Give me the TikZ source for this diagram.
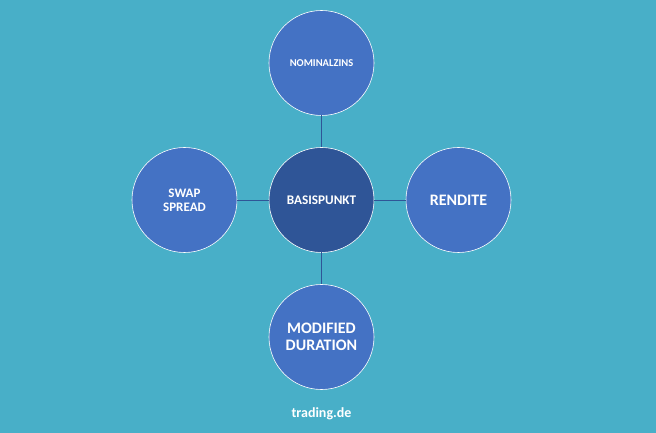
\documentclass[tikz,border=0pt]{standalone}
\usepackage{fontspec}
\setmainfont{Carlito}
\usepackage{tikz}
\usetikzlibrary{positioning}

\definecolor{bgteal}{HTML}{48AFC8}
\definecolor{circblue}{HTML}{4472C4}
\definecolor{coreblue}{HTML}{2F5597}

\begin{document}
\begin{tikzpicture}[x=1pt,y=1pt,node distance=32pt,
        term/.style={circle,draw=white,line width=0.6pt,fill=circblue,
          minimum size=105pt,inner sep=0pt,outer sep=0pt,text=white,
          font=\bfseries,align=center},
        core/.style={term,fill=coreblue},
        link/.style={draw=coreblue,line width=0.8pt}]

  \fill[bgteal] (-321.5,-233) rectangle (334.5,200);
  \useasboundingbox (-321.5,-233) rectangle (334.5,200);

  \node[core,font=\bfseries\fontsize{13.2}{15}\selectfont] (basis) at (0,0) {BASISPUNKT};
  \node[term,font=\bfseries\fontsize{10.5}{12}\selectfont] (nominal) [above=of basis] {NOMINALZINS};
  \node[term,font=\bfseries\fontsize{16}{19}\selectfont] (rendite) [right=of basis] {RENDITE};
  \node[term,font=\bfseries\fontsize{16}{17}\selectfont] (duration) [below=of basis] {MODIFIED\\DURATION};
  \node[term,font=\bfseries\fontsize{13}{14}\selectfont] (swap) [left=of basis] {SWAP\\SPREAD};

  \node[text=white,font=\bfseries\fontsize{14}{17}\selectfont] (brand) [below=15pt of duration] {trading.de};

  \path[link] (basis) -- (nominal)
        (basis) -- (rendite)
        (basis) -- (duration)
        (basis) -- (swap);

\end{tikzpicture}
\end{document}
